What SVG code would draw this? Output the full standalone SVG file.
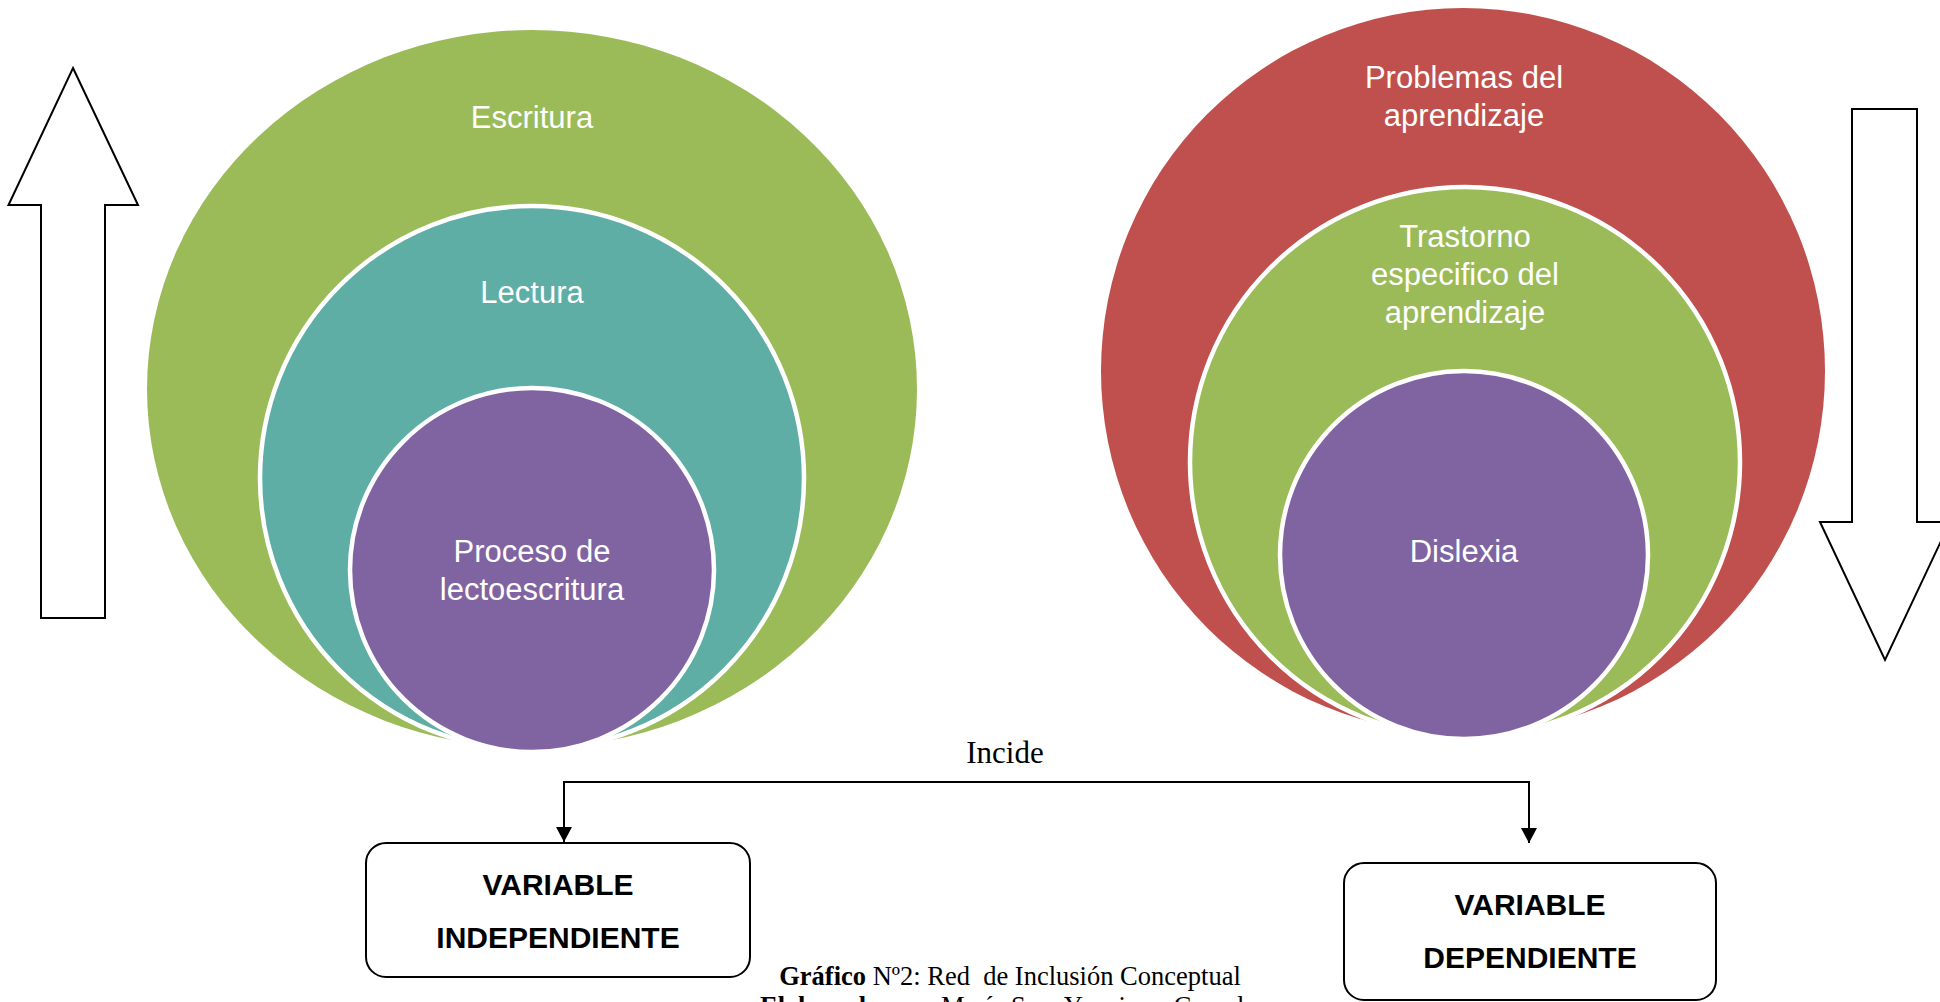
<svg xmlns="http://www.w3.org/2000/svg" width="1940" height="1002" viewBox="0 0 1940 1002">
  <defs>
    <marker id="arrow" viewBox="0 0 15 16" refX="15" refY="8" markerWidth="15" markerHeight="16" markerUnits="userSpaceOnUse" orient="auto-start-reverse">
      <path d="M0,0 L15,8 L0,16 z" fill="#000"/>
    </marker>
  </defs>
  <style>
    .blk { fill: #ffffff; stroke: #000000; stroke-width: 2; }
    .ring { stroke: #ffffff; stroke-width: 4.5; }
    .green { fill: #9BBB59; }
    .teal { fill: #5FAEA6; }
    .purple { fill: #8064A2; }
    .red { fill: #C0504D; }
    .lbl { font-family: "Liberation Sans", Arial, sans-serif; font-size: 31px; fill: #ffffff; text-anchor: middle; }
    .box { fill: #ffffff; stroke: #000000; stroke-width: 2; }
    .boxt { font-family: "Liberation Sans", Arial, sans-serif; font-size: 30px; font-weight: bold; fill: #000000; text-anchor: middle; }
    .serif { font-family: "Liberation Serif", "Times New Roman", serif; fill: #000000; }
    .conn { fill: none; stroke: #000000; stroke-width: 2; }
  </style>
  <rect width="1940" height="1002" fill="#ffffff"/>

  <g id="arrow-up">
    <polygon class="blk" points="73,68 138,205 105,205 105,618 41,618 41,205 8.5,205"/>
  </g>
  <g id="arrow-down">
    <polygon class="blk" points="1852,109 1917,109 1917,522 1950,522 1885,660 1820,522 1852,522"/>
  </g>

  <g id="node-escritura">
    <ellipse class="green" cx="532" cy="389" rx="385" ry="359"/>
    <text class="lbl" x="532" y="128">Escritura</text>
  </g>
  <g id="node-lectura">
    <ellipse class="teal ring" cx="532" cy="478" rx="272" ry="272"/>
    <text class="lbl" x="532" y="303">Lectura</text>
  </g>
  <g id="node-proceso">
    <ellipse class="purple ring" cx="532" cy="570" rx="182" ry="182"/>
    <text class="lbl" x="532" y="562">Proceso de</text>
    <text class="lbl" x="532" y="600">lectoescritura</text>
  </g>

  <g id="node-problemas">
    <ellipse class="red" cx="1463" cy="371" rx="362" ry="363"/>
    <text class="lbl" x="1464" y="88">Problemas del</text>
    <text class="lbl" x="1464" y="126">aprendizaje</text>
  </g>
  <g id="node-trastorno">
    <ellipse class="green ring" cx="1465" cy="462" rx="275" ry="275"/>
    <text class="lbl" x="1465" y="247">Trastorno</text>
    <text class="lbl" x="1465" y="285">especifico del</text>
    <text class="lbl" x="1465" y="323">aprendizaje</text>
  </g>
  <g id="node-dislexia">
    <ellipse class="purple ring" cx="1464" cy="555" rx="184" ry="184"/>
    <text class="lbl" x="1464" y="562">Dislexia</text>
  </g>

  <g id="connectors">
    <path class="conn" d="M564,842 V782 H1529 V843" marker-start="url(#arrow)" marker-end="url(#arrow)"/>
    <text class="serif" x="1005" y="763" font-size="31" text-anchor="middle">Incide</text>
  </g>

  <g id="node-independiente">
    <rect class="box" x="366" y="843" width="384" height="134" rx="20" ry="20"/>
    <text class="boxt" x="558" y="895">VARIABLE</text>
    <text class="boxt" x="558" y="948">INDEPENDIENTE</text>
  </g>
  <g id="node-dependiente">
    <rect class="box" x="1344" y="863" width="372" height="137" rx="20" ry="20"/>
    <text class="boxt" x="1530" y="915">VARIABLE</text>
    <text class="boxt" x="1530" y="968">DEPENDIENTE</text>
  </g>

  <g id="caption">
    <text class="serif" x="1010" y="985" font-size="26.5" text-anchor="middle" xml:space="preserve"><tspan font-weight="bold">Gráfico</tspan> Nº2: Red  de Inclusión Conceptual</text>
    <text class="serif" x="760" y="1014.5" font-size="26.5"><tspan font-weight="bold">Elaborado por:</tspan> María Sara Yaquimar Carval</text>
  </g>
</svg>
